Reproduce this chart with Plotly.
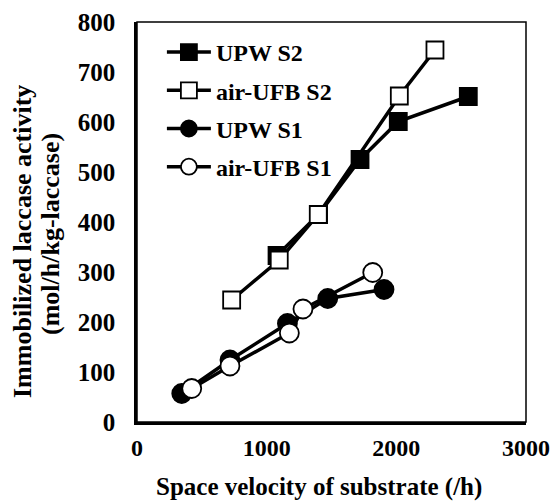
import plotly.graph_objects as go

# data
upw_s2_x = [1080, 1400, 1720, 2015, 2555]
upw_s2_y = [333, 415, 525, 601, 651]
ufb_s2_x = [730, 1097, 1398, 2023, 2298]
ufb_s2_y = [244, 324, 415, 652, 744]
upw_s1_x = [345, 717, 1160, 1471, 1905]
upw_s1_y = [57, 124, 197, 247, 265]
ufb_s1_x = [422, 717, 1175, 1280, 1818]
ufb_s1_y = [67, 112, 178, 226, 299]

x_ticks = [0, 1000, 2000, 3000]
y_ticks = [0, 100, 200, 300, 400, 500, 600, 700, 800]

x_title = "Space velocity of substrate (/h)"
y_title_1 = "Immobilized laccase activity"
y_title_2 = "(mol/h/kg-laccase)"

FONT = "Liberation Serif"

series = [
    ("UPW S2", upw_s2_x, upw_s2_y, "square", "black", 17),
    ("air-UFB S2", ufb_s2_x, ufb_s2_y, "square", "white", 17),
    ("UPW S1", upw_s1_x, upw_s1_y, "circle", "black", 19),
    ("air-UFB S1", ufb_s1_x, ufb_s1_y, "circle", "white", 19),
]

fig = go.Figure()
for i, (name, xs, ys, sym, fill, sz) in enumerate(series):
    fig.add_trace(go.Scatter(
        x=xs, y=ys, name=name, mode="lines+markers",
        legendgroup=f"g{i}",
        line=dict(color="black", width=3.5),
        marker=dict(symbol=sym, size=sz, color=fill,
                    line=dict(color="black", width=1.8)),
    ))

def tfont(size):
    return dict(family=FONT, size=size, color="black", weight="bold")

fig.update_layout(
    width=550, height=504,
    margin=dict(l=137, r=24, t=22, b=82, autoexpand=False),
    plot_bgcolor="white", paper_bgcolor="white",
    font=tfont(24),
    showlegend=True,
    legend=dict(x=0.064, y=0.98, xanchor="left", yanchor="top",
                bgcolor="rgba(0,0,0,0)", tracegroupgap=4,
                font=tfont(24), itemwidth=44),
    shapes=[dict(type="rect", xref="paper", yref="paper", x0=0, y0=0, x1=1, y1=1,
                 line=dict(color="black", width=1.5), layer="above")],
    annotations=[
        dict(text=x_title, xref="paper", yref="paper", x=0.468, y=-0.1625,
             xanchor="center", yanchor="middle", showarrow=False, font=tfont(25)),
        dict(text=y_title_1, xref="paper", yref="paper", x=(22 - 137) / 389, y=0.45,
             xanchor="center", yanchor="middle", textangle=-90, showarrow=False,
             font=tfont(26)),
        dict(text=y_title_2, xref="paper", yref="paper", x=(50 - 137) / 389, y=0.47,
             xanchor="center", yanchor="middle", textangle=-90, showarrow=False,
             font=tfont(26)),
    ],
)
fig.update_xaxes(
    range=[0, 3000], tickvals=x_ticks, ticktext=[str(v) for v in x_ticks],
    showgrid=False, zeroline=False, showline=True, linecolor="black", linewidth=2.5,
    ticks="", ticklabelstandoff=2, automargin=False, ticklabeloverflow="allow",
    tickfont=tfont(24),
)
fig.update_yaxes(
    range=[0, 800], tickvals=y_ticks, ticktext=[str(v) for v in y_ticks],
    showgrid=False, zeroline=False, showline=True, linecolor="black", linewidth=2.5,
    ticks="", ticklabelstandoff=14, automargin=False,
    tickfont=tfont(25),
)

# remove the default page margin so the 550x504 figure fills the window exactly
fig.write_html(
    "out.html",
    config={"displayModeBar": False},
    post_script="document.body.style.margin='0';"
                "document.documentElement.style.overflow='hidden';",
)
